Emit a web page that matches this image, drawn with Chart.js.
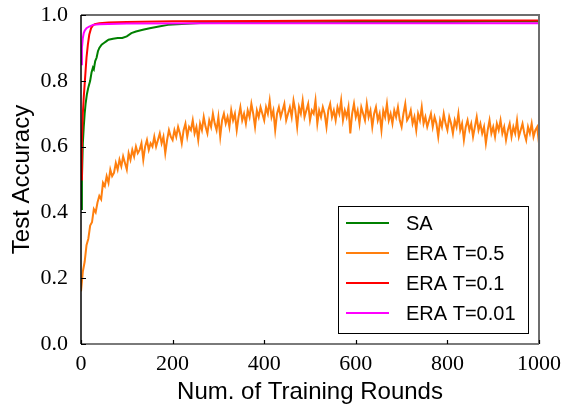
<!DOCTYPE html>
<html>
<head>
<meta charset="utf-8">
<script src="https://cdn.jsdelivr.net/npm/chart.js@4/dist/chart.umd.min.js"></script>
<style>
  html, body { margin: 0; padding: 0; background: #fff; }
</style>
</head>
<body>
<canvas id="accChart" width="563" height="407"></canvas>
<script>
// SA curve as [round, accuracy]
const saPoints = [
  [0, 0.41], [2, 0.50], [4, 0.61], [6, 0.66], [8, 0.70], [10, 0.73], [13, 0.76],
  [16, 0.78], [20, 0.80], [23, 0.825], [26, 0.84], [28, 0.835], [31, 0.86], [34, 0.87],
  [37, 0.89], [40, 0.90], [45, 0.91], [50, 0.915], [55, 0.92], [60, 0.925], [70, 0.928],
  [80, 0.93], [90, 0.93], [100, 0.935], [110, 0.945], [120, 0.95], [135, 0.955],
  [150, 0.96], [170, 0.965], [190, 0.97], [220, 0.973], [260, 0.976], [300, 0.977],
  [400, 0.978], [500, 0.978], [600, 0.979], [700, 0.979], [800, 0.979], [900, 0.98],
  [1000, 0.98]
];

// ERA T=0.1
const era01Points = [
  [0, 0.50], [2, 0.62], [4, 0.70], [6, 0.75], [8, 0.79], [10, 0.83], [12, 0.87],
  [15, 0.91], [18, 0.94], [22, 0.96], [26, 0.968], [30, 0.972], [40, 0.975],
  [60, 0.977], [100, 0.979], [200, 0.981], [400, 0.982], [600, 0.983], [800, 0.983],
  [1000, 0.983]
];

// ERA T=0.01
const era001Points = [
  [0, 0.85], [2, 0.90], [4, 0.93], [6, 0.945], [8, 0.952], [12, 0.96], [18, 0.965],
  [26, 0.97], [40, 0.972], [100, 0.974], [300, 0.975], [600, 0.975], [1000, 0.975]
];

// ERA T=0.5, one reading every 4 rounds (0 .. 1000)
const era05Step = 4;
const era05Values = [
  0.16, 0.22, 0.25, 0.30, 0.32, 0.36, 0.37, 0.41, 0.40, 0.43,
  0.45, 0.44, 0.49, 0.48, 0.51, 0.49, 0.53, 0.51, 0.52, 0.55,
  0.53, 0.56, 0.54, 0.57, 0.55, 0.53, 0.58, 0.56, 0.59, 0.57,
  0.60, 0.58, 0.59, 0.61, 0.56, 0.60, 0.62, 0.59, 0.61, 0.60,
  0.63, 0.60, 0.62, 0.64, 0.61, 0.63, 0.58, 0.62, 0.65, 0.63,
  0.62, 0.65, 0.63, 0.66, 0.64, 0.61, 0.65, 0.67, 0.63, 0.66,
  0.65, 0.68, 0.64, 0.66, 0.62, 0.67, 0.65, 0.69, 0.66, 0.64,
  0.68, 0.66, 0.70, 0.67, 0.65, 0.69, 0.63, 0.68, 0.70, 0.67,
  0.69, 0.66, 0.71, 0.68, 0.70, 0.65, 0.69, 0.72, 0.68, 0.70,
  0.67, 0.71, 0.69, 0.73, 0.70, 0.66, 0.71, 0.69, 0.72, 0.70,
  0.68, 0.72, 0.70, 0.74, 0.69, 0.71, 0.65, 0.70, 0.72, 0.69,
  0.71, 0.73, 0.68, 0.70, 0.72, 0.69, 0.74, 0.71, 0.66, 0.72,
  0.70, 0.74, 0.69, 0.71, 0.73, 0.68, 0.71, 0.70, 0.74, 0.67,
  0.71, 0.69, 0.72, 0.70, 0.66, 0.71, 0.73, 0.69, 0.71, 0.68,
  0.72, 0.70, 0.74, 0.68, 0.71, 0.69, 0.72, 0.64, 0.70, 0.73,
  0.69, 0.71, 0.67, 0.72, 0.70, 0.68, 0.73, 0.69, 0.71, 0.66,
  0.70, 0.72, 0.68, 0.70, 0.65, 0.71, 0.69, 0.73, 0.68, 0.70,
  0.67, 0.71, 0.69, 0.72, 0.68, 0.66, 0.70, 0.73, 0.68, 0.69,
  0.71, 0.67, 0.69, 0.65, 0.70, 0.68, 0.72, 0.67, 0.69, 0.66,
  0.68, 0.70, 0.66, 0.69, 0.67, 0.63, 0.68, 0.66, 0.70, 0.67,
  0.65, 0.69, 0.67, 0.64, 0.68, 0.66, 0.70, 0.65, 0.67, 0.62,
  0.66, 0.68, 0.65, 0.67, 0.63, 0.66, 0.69, 0.65, 0.67, 0.64,
  0.66, 0.61, 0.65, 0.68, 0.64, 0.66, 0.63, 0.67, 0.65, 0.68,
  0.64, 0.66, 0.62, 0.65, 0.67, 0.63, 0.66, 0.64, 0.68, 0.63,
  0.65, 0.67, 0.64, 0.62, 0.66, 0.64, 0.67, 0.63, 0.65, 0.66,
  0.61
];

const seriesLabels = ['SA', 'ERA T=0.5', 'ERA T=0.1', 'ERA T=0.01'];
const seriesColors = ['#008000', '#ff7f0e', '#ff0000', '#ff00ff'];
const xTicks = [0, 200, 400, 600, 800, 1000];
const yTicks = [0.0, 0.2, 0.4, 0.6, 0.8, 1.0];

function toXY(pairs) {
  return pairs.map(p => ({ x: p[0], y: p[1] }));
}

const era05Points = era05Values.map((v, i) => ({ x: i * era05Step, y: v }));

// frame + inward ticks, like the matplotlib axes
const framePlugin = {
  id: 'frame',
  afterDatasetsDraw(chart) {
    const { ctx, chartArea: a, scales } = chart;
    ctx.save();
    ctx.lineCap = 'butt';
    // top and right spines
    ctx.strokeStyle = '#6e6e6e';
    ctx.lineWidth = 2;
    ctx.beginPath();
    ctx.moveTo(a.left, a.top);
    ctx.lineTo(a.right, a.top);
    ctx.lineTo(a.right, a.bottom);
    ctx.stroke();
    // bottom spine
    ctx.strokeStyle = '#7a7a7a';
    ctx.beginPath();
    ctx.moveTo(a.left, a.bottom);
    ctx.lineTo(a.right, a.bottom);
    ctx.stroke();
    // left spine
    ctx.strokeStyle = '#000';
    ctx.lineWidth = 1.5;
    ctx.beginPath();
    ctx.moveTo(a.left, a.top);
    ctx.lineTo(a.left, a.bottom);
    ctx.stroke();
    // ticks
    ctx.lineWidth = 1.2;
    ctx.strokeStyle = '#000';
    ctx.beginPath();
    xTicks.forEach(t => {
      const px = Math.round(scales.x.getPixelForValue(t)) + 0.5;
      ctx.moveTo(px, a.bottom);
      ctx.lineTo(px, a.bottom - 4);
    });
    yTicks.forEach(t => {
      const py = Math.round(scales.y.getPixelForValue(t)) + 0.5;
      ctx.moveTo(a.left, py);
      ctx.lineTo(a.left + 5, py);
    });
    ctx.stroke();
    ctx.restore();
  }
};

// legend box in the lower right of the plot
const legendPlugin = {
  id: 'boxLegend',
  afterDraw(chart) {
    const { ctx } = chart;
    const box = { x: 338, y: 206, w: 190, h: 127 };
    ctx.save();
    ctx.fillStyle = '#fff';
    ctx.fillRect(box.x, box.y, box.w, box.h);
    ctx.strokeStyle = '#000';
    ctx.lineWidth = 1;
    ctx.strokeRect(box.x + 0.5, box.y + 0.5, box.w, box.h);
    ctx.font = '20px "Liberation Sans", Arial, sans-serif';
    ctx.textBaseline = 'middle';
    chart.data.datasets.forEach((ds, i) => {
      const y = box.y + 17 + i * 30;
      ctx.strokeStyle = ds.borderColor;
      ctx.lineWidth = 2;
      ctx.beginPath();
      ctx.moveTo(box.x + 8, y);
      ctx.lineTo(box.x + 51, y);
      ctx.stroke();
      ctx.fillStyle = '#000';
      ctx.fillText(ds.label, box.x + 68, y + 1);
    });
    ctx.restore();
  }
};

const ctx = document.getElementById('accChart').getContext('2d');
const accChart = new Chart(ctx, {
  type: 'line',
  data: {
    datasets: [
      { label: seriesLabels[0], data: toXY(saPoints), borderColor: seriesColors[0], order: 4 },
      { label: seriesLabels[1], data: era05Points, borderColor: seriesColors[1], order: 3 },
      { label: seriesLabels[2], data: toXY(era01Points), borderColor: seriesColors[2], order: 2 },
      { label: seriesLabels[3], data: toXY(era001Points), borderColor: seriesColors[3], order: 1 }
    ]
  },
  options: {
    responsive: false,
    animation: false,
    events: [],
    layout: { padding: { top: 15, right: 24, bottom: 0, left: 0 } },
    elements: {
      point: { radius: 0 },
      line: { borderWidth: 2, tension: 0, fill: false }
    },
    plugins: {
      legend: { display: false },
      tooltip: { enabled: false }
    },
    scales: {
      x: {
        type: 'linear',
        min: 0,
        max: 1000,
        grid: { display: false, drawTicks: false },
        border: { display: false },
        afterBuildTicks(scale) {
          scale.ticks = xTicks.map(v => ({ value: v }));
        },
        afterFit(scale) {
          scale.height = 63;
          scale.paddingLeft = 0;
          scale.paddingRight = 0;
        },
        ticks: {
          padding: 9,
          color: '#000',
          font: { family: '"Liberation Serif", "DejaVu Serif", serif', size: 22, lineHeight: 1 },
          maxRotation: 0,
          callback: v => String(v)
        },
        title: {
          display: true,
          text: 'Num. of Training Rounds',
          color: '#000',
          padding: { top: 0, bottom: 3 },
          font: { family: '"Liberation Sans", Arial, sans-serif', size: 24, lineHeight: 1 }
        }
      },
      y: {
        min: 0,
        max: 1,
        grid: { display: false, drawTicks: false },
        border: { display: false },
        afterBuildTicks(scale) {
          scale.ticks = yTicks.map(v => ({ value: v }));
        },
        afterFit(scale) {
          scale.width = 81;
          scale.paddingTop = 0;
          scale.paddingBottom = 0;
        },
        ticks: {
          padding: 13,
          color: '#000',
          font: { family: '"Liberation Serif", "DejaVu Serif", serif', size: 22, lineHeight: 1 },
          callback: v => Number(v).toFixed(1)
        },
        title: {
          display: true,
          text: 'Test Accuracy',
          color: '#000',
          padding: { top: 10, bottom: 0 },
          font: { family: '"Liberation Sans", Arial, sans-serif', size: 24, lineHeight: 1 }
        }
      }
    }
  },
  plugins: [framePlugin, legendPlugin]
});
</script>
</body>
</html>
